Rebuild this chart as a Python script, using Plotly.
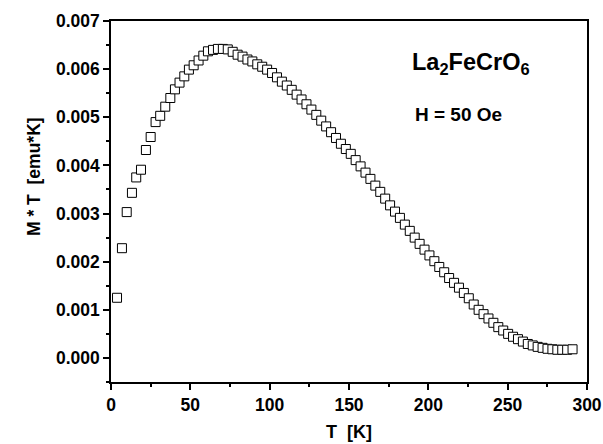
import plotly.graph_objects as go

temperature_K = [3.8, 6.9, 9.9, 13.2, 15.9, 18.9, 22.0, 25.0, 28.1, 31.0, 34.2, 37.4, 40.3, 43.2,
                 46.2, 49.1, 52.1, 55.2, 58.2, 61.1, 64.3, 67.4, 70.5, 73.6, 76.7, 79.8, 82.9, 86.0,
                 89.1, 92.2, 95.3, 98.4, 101.5, 104.6, 107.7, 110.8, 113.9, 117.0, 120.1, 123.2,
                 126.3, 129.4, 132.5, 135.6, 138.7, 141.8, 144.9, 148.0, 151.1, 154.2, 157.3, 160.4,
                 163.5, 166.6, 169.7, 172.8, 175.9, 179.0, 182.1, 185.2, 188.3, 191.4, 194.5, 197.6,
                 200.7, 203.8, 206.9, 210.0, 213.1, 216.2, 219.3, 222.4, 225.5, 228.6, 231.7, 234.8,
                 237.9, 241.0, 244.1, 247.2, 250.3, 253.4, 256.5, 259.6, 262.7, 265.8, 268.9, 272.0,
                 275.1, 278.2, 281.3, 284.4, 287.5, 290.9]

mt_emuK = [0.00125, 0.00228, 0.00303, 0.00343, 0.00375, 0.00391, 0.00432, 0.00459, 0.00490, 0.00503,
           0.00522, 0.00540, 0.00558, 0.00572, 0.00585, 0.00599, 0.00608, 0.00618, 0.00628, 0.00637,
           0.00640, 0.00642, 0.00642, 0.00641, 0.00636, 0.00630, 0.00626, 0.00620, 0.00616, 0.00610,
           0.00605, 0.00599, 0.00592, 0.00583, 0.00574, 0.00566, 0.00557, 0.00547, 0.00537, 0.00527,
           0.00516, 0.00505, 0.00493, 0.00481, 0.00469, 0.00457, 0.00445, 0.00434, 0.00424, 0.00411,
           0.00398, 0.00385, 0.00372, 0.00358, 0.00345, 0.00331, 0.00317, 0.00304, 0.00291, 0.00277,
           0.00264, 0.00250, 0.00237, 0.00225, 0.00213, 0.00201, 0.00189, 0.00178, 0.00166, 0.00156,
           0.00146, 0.00135, 0.00124, 0.00111, 0.00100, 0.00091, 0.00082, 0.00073, 0.00064, 0.00057,
           0.00050, 0.00044, 0.00039, 0.00034, 0.00029, 0.00026, 0.00023, 0.00021, 0.00019, 0.00018,
           0.00017, 0.00017, 0.00017, 0.00018]

FONT = "Liberation Sans, Arial, sans-serif"

fig = go.Figure()
fig.add_trace(go.Scatter(
    x=temperature_K, y=mt_emuK, mode="markers",
    marker=dict(symbol="square", size=9, color="white",
                line=dict(color="black", width=1)),
    showlegend=False,
))

axis_common = dict(
    showline=True, linecolor="black", linewidth=1.5, mirror=True,
    ticks="outside", ticklen=6, tickwidth=1.5, tickcolor="black",
    showgrid=False, zeroline=False, automargin=False,
    tickfont=dict(family=FONT, size=17.5, color="black", weight="bold"),
)

fig.update_xaxes(
    range=[0, 300], dtick=50, tick0=0,
    minor=dict(dtick=25, ticks="outside", ticklen=3, tickwidth=1.5, tickcolor="black"),
    title=dict(text="<b>T  [K]</b>", font=dict(family=FONT, size=18, color="black"), standoff=12),
    **axis_common,
)
fig.update_yaxes(
    range=[-0.0005, 0.007], dtick=0.001, tick0=0, tickformat=".3f",
    minor=dict(dtick=0.0005, ticks="outside", ticklen=3, tickwidth=1.5, tickcolor="black"),
    **axis_common,
)

# y-axis title (placed above centre, as in the reference)
fig.add_annotation(
    xref="paper", yref="paper", x=(34 - 111) / 476, y=(382 - 177) / 361,
    xanchor="center", yanchor="middle", showarrow=False, textangle=-90,
    text="<b>M * T  [emu*K]</b>",
    font=dict(family=FONT, size=17.5, color="black"),
)
fig.add_annotation(
    xref="paper", yref="paper", x=(471 - 111) / 476, y=(382 - 63) / 361,
    xanchor="center", yanchor="middle", showarrow=False,
    text="<b>La<sub>2</sub>FeCrO<sub>6</sub></b>",
    font=dict(family=FONT, size=23.5, color="black"),
)
fig.add_annotation(
    xref="paper", yref="paper", x=(458 - 111) / 476, y=(382 - 115) / 361,
    xanchor="center", yanchor="middle", showarrow=False,
    text="<b>H = 50 Oe</b>",
    font=dict(family=FONT, size=19, color="black"),
)

fig.update_layout(
    width=603, height=444,
    margin=dict(l=111, r=16, t=21, b=62),
    paper_bgcolor="white", plot_bgcolor="white",
)

fig.write_html("out.html", config={"displayModeBar": False},
               post_script="document.body.style.margin='0';document.body.style.overflow='hidden';")
